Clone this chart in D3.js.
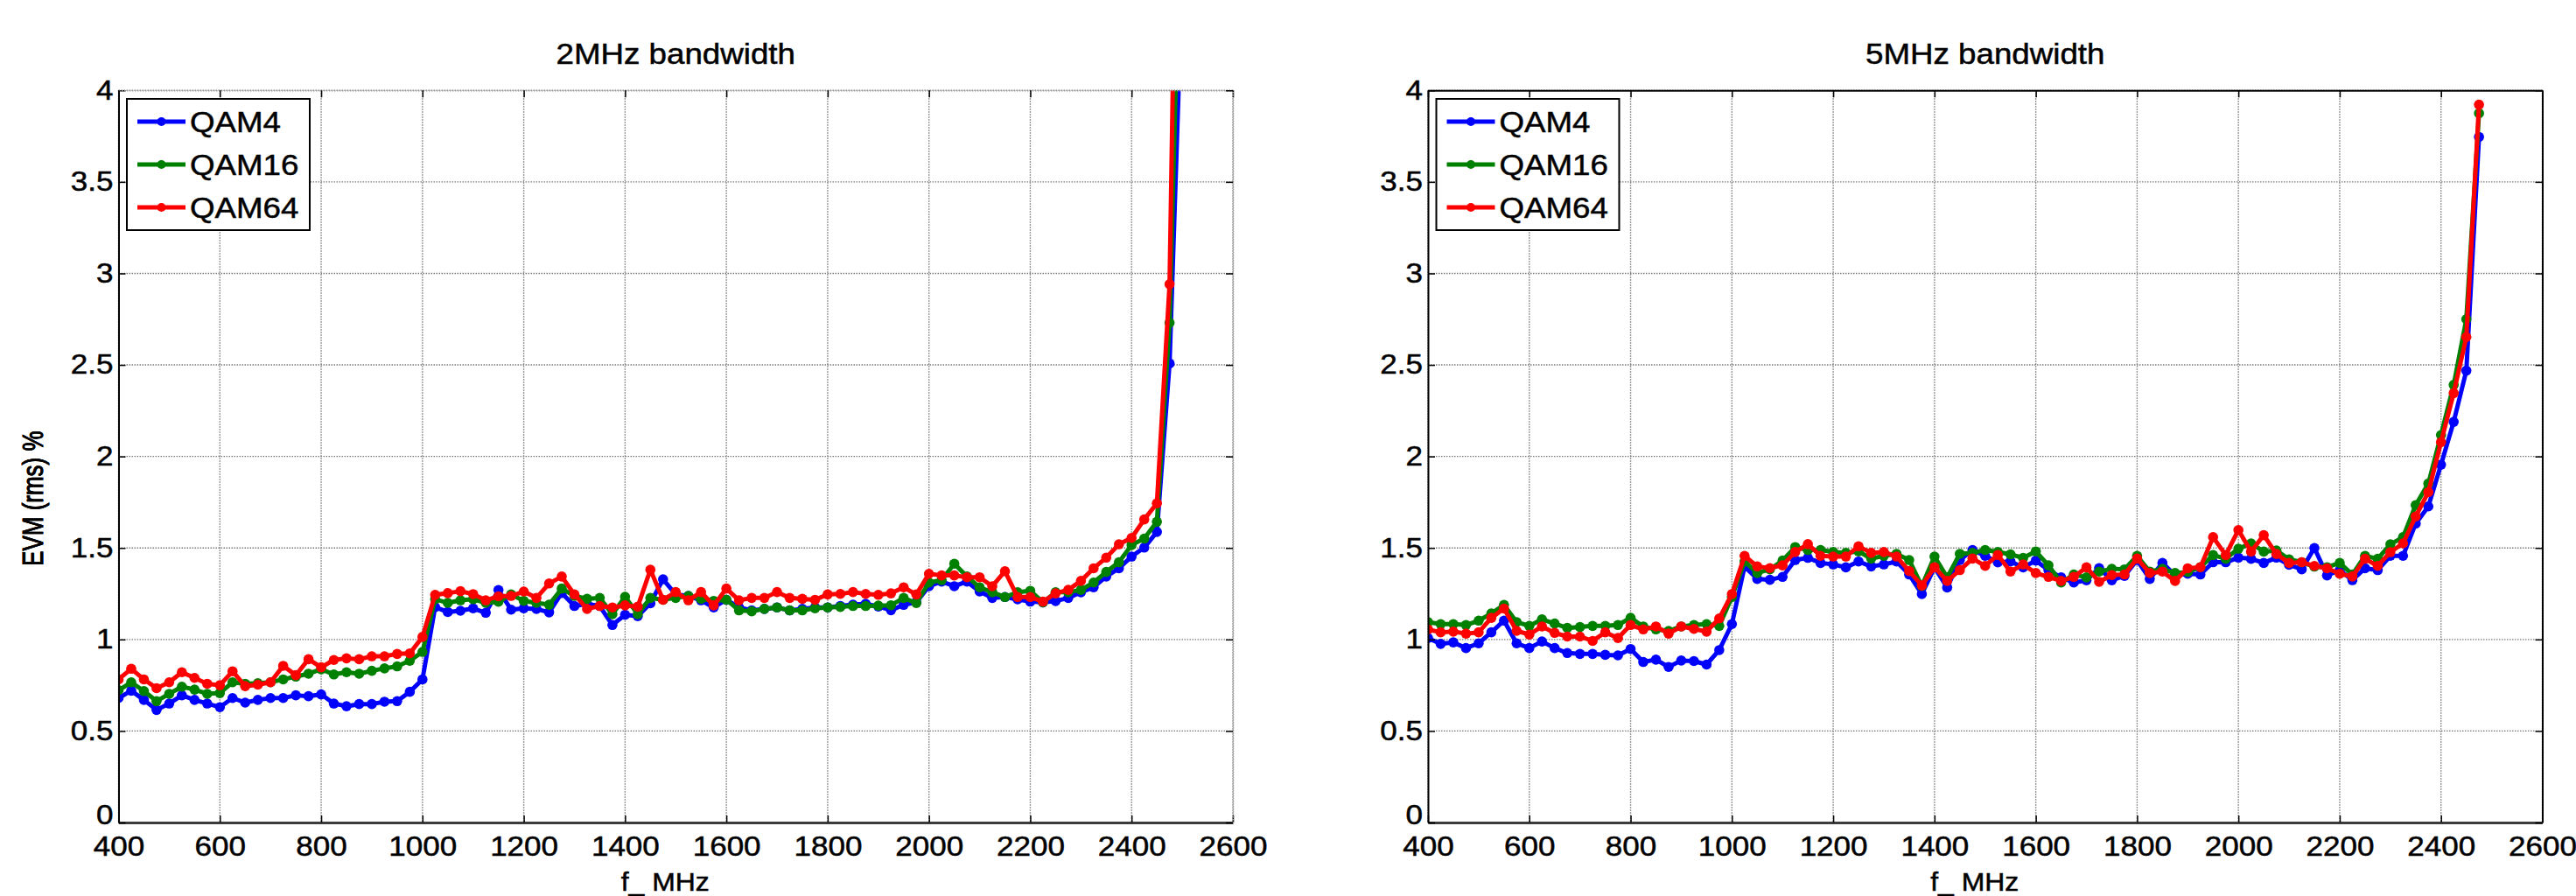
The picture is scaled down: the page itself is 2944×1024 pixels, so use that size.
<!DOCTYPE html>
<html><head><meta charset="utf-8">
<script src="https://cdn.jsdelivr.net/npm/d3@7"></script>
<style>
body{margin:0;background:#fff}
svg{display:block}
text{font-family:"Liberation Sans",Arial,Helvetica,sans-serif;fill:#000;stroke:#000;stroke-width:0.5px}
</style>
</head><body>
<svg id="chart" width="2944" height="1024"></svg>
<script>
// ---------------- DATA ----------------
const freq2MHz = [400,425,450,475,500,525,550,575,600,625,650,675,700,725,750,775,800,825,850,875,900,925,950,975,
  1000,1025,1050,1075,1100,1125,1150,1175,1200,1225,1250,1275,1300,1325,1350,1375,1400,1425,1450,1475,
  1500,1525,1550,1575,1600,1625,1650,1675,1700,1725,1750,1775,1800,1825,1850,1875,1900,1925,1950,1975,
  2000,2025,2050,2075,2100,2125,2150,2175,2200,2225,2250,2275,2300,2325,2350,2375,2400,2425,2450,2475,2500];
const qam4_2MHz = [0.68,0.72,0.67,0.615,0.65,0.695,0.67,0.65,0.63,0.68,0.655,0.67,0.68,0.68,0.695,0.69,0.70,0.65,0.635,0.647,0.647,0.66,0.663,0.714,
  0.782,1.177,1.15,1.157,1.17,1.146,1.27,1.163,1.17,1.167,1.148,1.254,1.183,1.194,1.183,1.079,1.135,1.127,1.198,1.329,
  1.246,1.238,1.214,1.175,1.217,1.175,1.159,1.167,1.175,1.159,1.167,1.175,1.175,1.183,1.19,1.195,1.18,1.16,1.189,1.203,
  1.291,1.316,1.291,1.316,1.262,1.227,1.232,1.219,1.207,1.203,1.21,1.227,1.258,1.285,1.344,1.389,1.453,1.502,1.588,2.508,4.6];
const qam16_2MHz = [0.723,0.766,0.718,0.663,0.703,0.742,0.726,0.703,0.707,0.766,0.758,0.761,0.766,0.782,0.797,0.813,0.837,0.809,0.821,0.813,0.829,0.842,0.853,0.884,
  0.932,1.22,1.2,1.214,1.22,1.2,1.206,1.246,1.211,1.2,1.19,1.278,1.238,1.222,1.227,1.138,1.233,1.138,1.227,1.217,
  1.227,1.238,1.222,1.211,1.217,1.159,1.154,1.167,1.175,1.159,1.159,1.17,1.175,1.178,1.183,1.183,1.185,1.187,1.227,1.199,
  1.311,1.324,1.414,1.344,1.285,1.258,1.232,1.258,1.266,1.203,1.258,1.258,1.271,1.311,1.369,1.422,1.516,1.551,1.643,2.73,5.4];
const qam64_2MHz = [0.782,0.84,0.782,0.734,0.766,0.821,0.79,0.758,0.75,0.826,0.745,0.753,0.766,0.856,0.805,0.892,0.848,0.888,0.897,0.892,0.908,0.908,0.921,0.924,
  1.014,1.244,1.253,1.264,1.248,1.214,1.236,1.238,1.262,1.227,1.306,1.344,1.246,1.167,1.183,1.175,1.186,1.179,1.381,1.217,
  1.259,1.214,1.259,1.186,1.278,1.214,1.227,1.227,1.259,1.227,1.222,1.217,1.246,1.249,1.259,1.249,1.244,1.252,1.285,1.246,
  1.359,1.35,1.35,1.34,1.34,1.291,1.373,1.232,1.232,1.207,1.252,1.271,1.32,1.389,1.447,1.52,1.555,1.656,1.744,2.941,7.2];

const freq5MHz = [400,425,450,475,500,525,550,575,600,625,650,675,700,725,750,775,800,825,850,875,900,925,950,975,
  1000,1025,1050,1075,1100,1125,1150,1175,1200,1225,1250,1275,1300,1325,1350,1375,1400,1425,1450,1475,
  1500,1525,1550,1575,1600,1625,1650,1675,1700,1725,1750,1775,1800,1825,1850,1875,1900,1925,1950,1975,
  2000,2025,2050,2075,2100,2125,2150,2175,2200,2225,2250,2275,2300,2325,2350,2375,2400,2425,2450,2475];
const qam4_5MHz = [1.008,0.976,0.984,0.953,0.979,1.039,1.103,0.979,0.953,0.989,0.953,0.926,0.921,0.921,0.916,0.913,0.948,0.877,0.89,0.85,0.885,0.882,0.863,0.942,
  1.084,1.399,1.331,1.326,1.342,1.434,1.446,1.418,1.41,1.394,1.426,1.399,1.41,1.426,1.355,1.248,1.394,1.284,1.434,1.489,
  1.457,1.421,1.426,1.394,1.431,1.379,1.339,1.311,1.323,1.39,1.323,1.347,1.434,1.331,1.418,1.35,1.359,1.355,1.422,1.422,
  1.447,1.441,1.418,1.447,1.408,1.383,1.5,1.35,1.379,1.324,1.389,1.379,1.457,1.457,1.633,1.727,1.955,2.189,2.469,3.746];
const qam16_5MHz = [1.095,1.084,1.084,1.079,1.103,1.142,1.189,1.095,1.074,1.11,1.087,1.063,1.068,1.074,1.074,1.079,1.118,1.071,1.055,1.047,1.071,1.079,1.084,1.074,
  1.232,1.426,1.363,1.383,1.431,1.505,1.489,1.489,1.478,1.473,1.481,1.442,1.457,1.468,1.434,1.292,1.453,1.339,1.468,1.473,
  1.489,1.478,1.465,1.446,1.481,1.405,1.311,1.355,1.339,1.371,1.386,1.383,1.457,1.371,1.386,1.363,1.369,1.395,1.461,1.441,
  1.496,1.525,1.48,1.486,1.438,1.422,1.398,1.395,1.418,1.355,1.457,1.441,1.52,1.559,1.734,1.852,2.117,2.391,2.75,3.875];
const qam64_5MHz = [1.055,1.039,1.043,1.032,1.039,1.118,1.169,1.047,1.027,1.071,1.036,1.016,1.016,0.992,1.039,1.008,1.079,1.055,1.071,1.032,1.071,1.058,1.043,1.115,
  1.248,1.457,1.399,1.39,1.405,1.478,1.521,1.457,1.453,1.453,1.509,1.473,1.478,1.453,1.374,1.295,1.394,1.32,1.379,1.442,
  1.402,1.462,1.371,1.41,1.363,1.342,1.32,1.342,1.394,1.315,1.352,1.355,1.442,1.363,1.371,1.32,1.389,1.395,1.559,1.461,
  1.598,1.48,1.57,1.467,1.418,1.422,1.402,1.389,1.359,1.344,1.441,1.402,1.477,1.525,1.672,1.805,2.078,2.346,2.652,3.922];

const seriesNames = ["QAM4","QAM16","QAM64"];
const seriesColors = ["#0000ff","#008000","#ff0000"];
const panelTitles = ["2MHz bandwidth","5MHz bandwidth"];
const xTickValues = [400,600,800,1000,1200,1400,1600,1800,2000,2200,2400,2600];
const yTickValues = [0,0.5,1,1.5,2,2.5,3,3.5,4];
const yTickLabels = ["0","0.5","1","1.5","2","2.5","3","3.5","4"];
const yLabelText = "EVM (rms) %";
const xLabelText = "f_ MHz";

// ---------------- LAYOUT ----------------
const svg = d3.select("#chart");
const plotTop = 103.3, plotH = 836.7, plotW = 1273.5;
const panelLefts = [135.5, 1632];
const FONT = '"Liberation Sans",Arial,Helvetica,sans-serif';
const tickFont = 31, tickStretch = 1.13;
const titleFont = 34, legendFont = 34, softStretch = 1.08;
const yLabFont = 26, yLabStretch = 1.3, xLabFont = 29, xLabStretch = 1.1;

const panels = [
  {title: panelTitles[0], x: freq2MHz, ys: [qam4_2MHz, qam16_2MHz, qam64_2MHz], frame: "#9a9a9a", frameDash: "1.5,1.5"},
  {title: panelTitles[1], x: freq5MHz, ys: [qam4_5MHz, qam16_5MHz, qam64_5MHz], frame: "#000", frameDash: null}
];

panels.forEach((p, pi) => {
  const left = panelLefts[pi];
  const g = svg.append("g").attr("transform", `translate(${left},${plotTop})`);
  const x = d3.scaleLinear().domain([400, 2600]).range([0, plotW]);
  const y = d3.scaleLinear().domain([0, 4]).range([plotH, 0]);

  // grid
  const grid = g.append("g");
  grid.selectAll("line.gx").data(xTickValues).join("line")
    .attr("x1", d => x(d)).attr("x2", d => x(d)).attr("y1", 0).attr("y2", plotH)
    .attr("stroke", "#7a7a7a").attr("stroke-width", 1.4).attr("stroke-dasharray", "1.5,1.5");
  grid.selectAll("line.gy").data(yTickValues).join("line")
    .attr("y1", d => y(d)).attr("y2", d => y(d)).attr("x1", 0).attr("x2", plotW)
    .attr("stroke", "#7a7a7a").attr("stroke-width", 1.4).attr("stroke-dasharray", "1.5,1.5");

  // clip
  const clipId = "clip" + pi;
  g.append("clipPath").attr("id", clipId).append("rect")
    .attr("x", 0).attr("y", 0).attr("width", plotW).attr("height", plotH);

  const data = g.append("g").attr("clip-path", `url(#${clipId})`);
  p.ys.forEach((vals, si) => {
    const pts = p.x.map((f, i) => [f, vals[i]]);
    data.append("path").datum(pts)
      .attr("fill", "none").attr("stroke", seriesColors[si]).attr("stroke-width", 5)
      .attr("stroke-linejoin", "round")
      .attr("d", d3.line().x(d => x(d[0])).y(d => y(d[1])));
    data.selectAll(null).data(pts).join("circle")
      .attr("cx", d => x(d[0])).attr("cy", d => y(d[1])).attr("r", 5.8)
      .attr("fill", seriesColors[si]);
  });

  // axes
  const xAxis = g.append("g").attr("transform", `translate(0,${plotH})`)
    .call(d3.axisBottom(x).tickValues(xTickValues).tickFormat(d3.format("d"))
      .tickSizeInner(-8).tickSizeOuter(0).tickPadding(16));
  const yAxis = g.append("g")
    .call(d3.axisLeft(y).tickValues(yTickValues).tickFormat((d, i) => yTickLabels[i])
      .tickSizeInner(-8).tickSizeOuter(0).tickPadding(6));
  const tAxis = g.append("g")
    .call(d3.axisTop(x).tickValues(xTickValues).tickFormat("").tickSizeInner(-8).tickSizeOuter(0));
  const rAxis = g.append("g").attr("transform", `translate(${plotW},0)`)
    .call(d3.axisRight(y).tickValues(yTickValues).tickFormat("").tickSizeInner(-8).tickSizeOuter(0));
  [xAxis, yAxis, tAxis, rAxis].forEach(a => {
    a.attr("font-family", FONT).attr("font-size", tickFont);
    a.selectAll(".tick line").attr("stroke", "#000").attr("stroke-width", 1.5);
    a.selectAll(".tick text").attr("fill", "#000");
  });
  xAxis.selectAll(".tick text").attr("transform", `scale(${tickStretch},1)`);
  yAxis.selectAll(".tick text").attr("x", -6 / tickStretch).attr("transform", `scale(${tickStretch},1)`);
  // lift the "0" label a little so it clears the "400" label below it
  yAxis.selectAll(".tick text").filter(d => d === 0).attr("y", -8);
  xAxis.select(".domain").attr("stroke", "#3c3c3c").attr("stroke-width", 3);
  yAxis.select(".domain").attr("stroke", "#000").attr("stroke-width", 2);
  [tAxis, rAxis].forEach(a => a.select(".domain")
    .attr("stroke", p.frame).attr("stroke-width", p.frameDash ? 1.5 : 2)
    .attr("stroke-dasharray", p.frameDash));

  // title
  g.append("text").attr("transform", `translate(${plotW / 2},${73 - plotTop}) scale(${softStretch},1)`)
    .attr("text-anchor", "middle").attr("font-size", titleFont).text(p.title);

  // y label
  g.append("text")
    .attr("transform", `translate(${49 - left},${plotH / 2 + 48}) scale(${yLabStretch},1) rotate(-90)`)
    .attr("text-anchor", "middle").attr("font-size", yLabFont).text(yLabelText);

  // x label
  g.append("text")
    .attr("transform", `translate(${plotW / 2 - 12},${1018 - plotTop}) scale(${xLabStretch},1)`)
    .attr("text-anchor", "middle").attr("font-size", xLabFont).text(xLabelText);

  // legend
  const lg = g.append("g").attr("transform", "translate(9.5,9.7)");
  lg.append("rect").attr("width", 209).attr("height", 150)
    .attr("fill", "#fff").attr("stroke", "#000").attr("stroke-width", 2);
  seriesNames.forEach((name, si) => {
    const cy = 26 + si * 49;
    lg.append("line").attr("x1", 12).attr("x2", 67).attr("y1", cy).attr("y2", cy)
      .attr("stroke", seriesColors[si]).attr("stroke-width", 5);
    lg.append("circle").attr("cx", 39.5).attr("cy", cy).attr("r", 5).attr("fill", seriesColors[si]);
    lg.append("text").attr("transform", `translate(72,${cy}) scale(${softStretch},1)`)
      .attr("dy", "0.36em").attr("font-size", legendFont).text(name);
  });
});
</script>
</body></html>
